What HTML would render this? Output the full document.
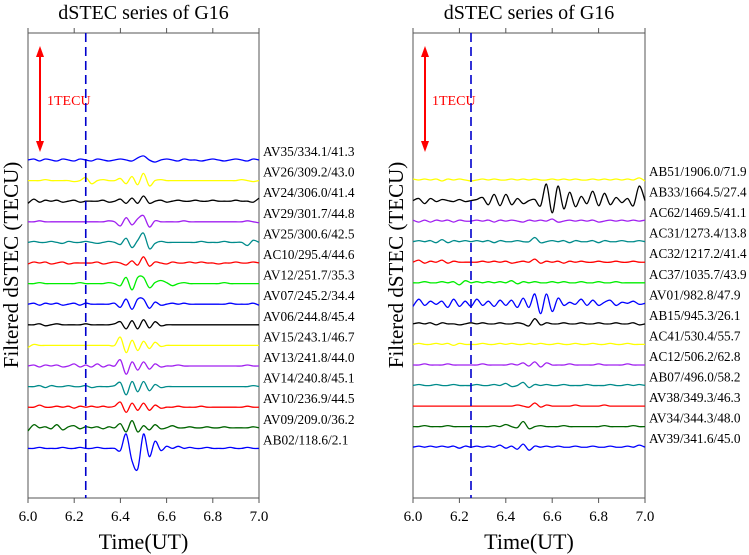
<!DOCTYPE html>
<html><head><meta charset="utf-8"><style>
html,body{margin:0;padding:0;background:#fff}
svg{display:block}
text{font-family:"Liberation Serif",serif}
</style></head><body>
<svg id="chart" width="749" height="555" viewBox="0 0 749 555"></svg>
<script>
const xTicks=[6.0,6.2,6.4,6.6,6.8,7.0];
const tStart=6.0, tStep=0.025;
const leftLabels=["AV35/334.1/41.3","AV26/309.2/43.0","AV24/306.0/41.4","AV29/301.7/44.8","AV25/300.6/42.5","AC10/295.4/44.6","AV12/251.7/35.3","AV07/245.2/34.4","AV06/244.8/45.4","AV15/243.1/46.7","AV13/241.8/44.0","AV14/240.8/45.1","AV10/236.9/44.5","AV09/209.0/36.2","AB02/118.6/2.1"];
const leftColors=["#0000ff","#ffff00","#000000","#a020f0","#008b8b","#ff0000","#00ee00","#0000ff","#000000","#ffff00","#a020f0","#008b8b","#ff0000","#006400","#0000ff"];
const leftSeries=[
[0,1,-1,1,0,-1,1,0,-1,1,0,-1,1,0,-1,0,1,0,-1,2,4,0,-2,0,1,0,-1,1,0,0,-1,0,1,0,-1,0,1,0,-1,1,0],
[0,0,0,1,0,0,0,0,-1,0,3,-3,0,1,0,0,2,-3,4,-4,7,-5,0,1,0,0,0,0,0,0,0,0,0,0,0,0,0,1,0,-1,0],
[-2,2,-1,1,0,1,-1,0,1,-1,0,0,0,1,-1,0,2,-2,3,-2,5,-2,0,1,-1,0,1,0,0,1,0,0,1,0,0,0,1,0,0,-1,3],
[0,0,1,0,0,0,0,0,0,0,0,0,0,0,1,0,-4,4,-3,3,6,-5,1,0,0,0,0,1,0,0,0,0,0,0,0,0,0,0,1,0,-1],
[0,1,0,0,1,0,-1,1,0,0,1,0,-1,0,1,0,-2,4,-5,2,9,-6,-1,1,0,0,0,0,0,0,1,0,0,0,1,0,0,0,-3,2,0],
[-1,1,0,1,-1,0,1,-1,0,0,0,0,1,-1,0,1,0,-2,2,-2,6,-3,1,0,-1,1,0,0,1,0,1,0,0,-1,0,0,1,0,0,1,0],
[0,0,1,0,0,0,0,0,0,1,0,0,0,0,1,0,-2,6,-6,6,6,-4,1,3,1,-2,0,1,0,0,0,0,0,0,1,0,0,0,0,0,0],
[0,1,-1,1,0,1,-1,0,1,-1,1,0,0,0,0,1,-3,5,-5,5,5,-4,2,-1,0,1,0,1,0,0,0,0,0,0,0,1,0,0,0,1,-1],
[0,0,1,-1,0,1,0,0,0,0,1,0,0,0,0,1,3,-4,4,-4,5,-3,3,-1,0,0,0,0,0,0,0,0,0,0,0,0,0,0,0,0,0],
[-2,1,0,0,0,0,0,0,0,0,0,0,0,0,0,0,8,-7,5,-5,4,-3,3,-1,0,0,0,0,0,0,0,0,0,0,0,0,0,0,0,0,0],
[0,1,-1,1,0,1,-1,0,2,-1,1,-1,2,-1,1,0,6,-8,4,-4,4,-3,2,-1,0,0,1,0,0,0,0,0,0,0,0,0,0,0,1,0,0],
[0,0,1,-1,1,0,0,1,0,0,1,-1,0,0,0,1,4,-8,5,-5,5,-4,2,-1,0,0,0,0,0,0,0,0,0,0,0,0,0,0,0,1,0],
[0,0,2,0,0,1,0,1,-1,1,0,1,0,1,0,1,5,-5,4,-3,4,-3,2,-1,0,0,1,0,0,0,1,0,0,0,0,0,0,0,1,0,0],
[-3,3,0,1,-1,3,-2,1,2,-1,1,0,1,-1,1,0,4,-4,7,-4,2,-2,3,-1,0,2,0,0,1,0,0,1,0,0,1,0,0,0,0,1,0],
[0,0,1,0,0,0,1,0,0,1,0,0,1,0,0,0,-2,14,-12,-20,14,-8,7,-2,2,0,2,0,1,0,0,1,0,0,0,1,0,0,1,0,0]];
const rightLabels=["AB51/1906.0/71.9","AB33/1664.5/27.4","AC62/1469.5/41.1","AC31/1273.4/13.8","AC32/1217.2/41.4","AC37/1035.7/43.9","AV01/982.8/47.9","AB15/945.3/26.1","AC41/530.4/55.7","AC12/506.2/62.8","AB07/496.0/58.2","AV38/349.3/46.3","AV34/344.3/48.0","AV39/341.6/45.0"];
const rightColors=["#ffff00","#000000","#a020f0","#008b8b","#ff0000","#00ee00","#0000ff","#000000","#ffff00","#a020f0","#008b8b","#ff0000","#006400","#0000ff"];
const rightSeries=[
[1,0,1,0,1,-1,1,0,1,0,-1,0,1,0,1,0,0,1,0,1,0,1,0,0,1,0,1,0,1,0,0,1,0,1,0,1,0,1,0,2,-1],
[0,2,-3,2,-1,1,0,-1,1,-1,0,1,3,-4,6,-5,6,-4,2,-3,0,1,-5,16,-12,14,-8,8,-6,4,-3,9,-5,7,-4,3,-2,2,-5,14,0],
[1,-1,1,-1,1,0,1,-1,1,0,0,1,0,1,-1,1,0,1,0,-1,1,0,1,0,2,-1,0,1,0,1,0,1,-1,0,1,0,1,0,1,0,1],
[0,1,0,1,-1,2,-1,1,0,1,0,1,0,1,-1,1,0,0,1,0,0,4,-1,0,1,0,1,-1,1,0,0,1,-1,1,0,0,1,0,0,1,0],
[0,2,-1,1,0,2,-1,1,0,0,0,0,1,0,1,0,1,-1,0,1,0,3,-1,1,0,1,-1,1,0,1,0,0,1,0,0,1,0,0,1,0,0],
[0,0,1,0,0,1,0,1,-2,2,0,1,0,1,0,1,0,2,-1,1,0,1,0,0,1,0,1,0,0,1,0,0,1,0,0,1,0,0,0,0,0],
[-3,4,-2,2,-1,2,-4,4,-3,2,-3,4,-2,2,-3,3,-2,3,-4,5,-4,9,-10,9,-8,5,-2,1,-1,4,-2,3,-2,1,3,-2,1,0,2,-1,0],
[0,1,0,1,-1,1,0,0,-1,0,1,0,1,0,0,1,0,0,1,0,-2,5,-1,1,0,0,1,0,0,1,0,0,1,0,0,1,0,0,1,-1,0],
[0,1,0,0,1,0,1,-1,1,0,0,0,1,0,0,1,0,1,0,0,1,0,1,0,0,1,0,0,1,0,0,1,0,0,1,0,0,1,0,0,0],
[0,0,1,0,0,0,1,0,0,0,0,0,1,0,0,0,0,1,0,2,-1,3,-2,2,0,0,0,1,0,0,0,0,1,0,0,0,0,1,0,0,0],
[0,1,0,0,1,0,0,1,0,0,0,1,0,0,1,0,2,-1,0,3,-2,1,0,1,0,0,1,0,0,0,1,0,0,0,1,0,0,1,0,1,0],
[0,0,0,0,0,0,0,0,0,0,0,0,0,0,0,0,0,0,1,0,-1,3,-1,1,0,0,0,0,1,0,0,0,0,1,0,0,0,0,0,0,0],
[0,0,1,0,0,0,1,0,0,0,0,0,0,0,1,0,2,0,-1,5,-2,0,1,0,0,0,1,0,0,0,0,0,0,1,0,0,0,0,1,0,0],
[0,1,0,1,0,1,0,1,-1,1,0,1,0,1,0,2,-1,1,-2,3,-3,1,0,1,0,1,0,0,1,0,0,1,0,0,1,0,0,1,0,2,0]];
const eventTime=6.25;

const NS="http://www.w3.org/2000/svg";
const svg=document.getElementById('chart');
function mk(tag,attrs,parent){const e=document.createElementNS(NS,tag);for(const k in attrs)e.setAttribute(k,attrs[k]);(parent||svg).appendChild(e);return e;}

function panel(p){
  const g=mk('g',{});
  
  
  const x=t=>p.x0+(t-6.0)/(7.0-6.0)*(p.x1-p.x0);
  const yv=(base,v)=>base-v*p.pxPerUnit;
  const ti=mk('text',{x:(p.x0+p.x1)/2,y:19,'text-anchor':'middle','font-size':20},g);ti.textContent="dSTEC series of G16";
  
  
  const fr=mk('rect',{x:p.x0,y:p.y0,width:p.x1-p.x0,height:p.y1-p.y0,fill:'none',stroke:'#555','stroke-width':1},g);
  
  
  xTicks.forEach(t=>{
    mk('line',{x1:x(t),x2:x(t),y1:p.y0,y2:p.y0-5,stroke:'#555'},g);
    mk('line',{x1:x(t),x2:x(t),y1:p.y1,y2:p.y1+5,stroke:'#555'},g);
    const tl=mk('text',{x:x(t),y:p.y1+23,'text-anchor':'middle','font-size':15},g);tl.textContent=t.toFixed(1);
    
    
  });
  const xl=mk('text',{x:(p.x0+p.x1)/2,y:549,'text-anchor':'middle','font-size':22},g);xl.textContent="Time(UT)";
  
  
  const yl=mk('text',{x:0,y:0,'text-anchor':'middle','font-size':21,transform:`translate(${p.x0-10},265) rotate(-90)`},g);yl.textContent="Filtered dSTEC (TECU)";
  
  
  const ax=p.x0+12;
  const ar=mk('g',{},g);
  
  
  mk('line',{x1:ax,x2:ax,y1:52,y2:146,stroke:'#ff0000','stroke-width':2},ar);
  mk('polygon',{points:`${ax-4},57 ${ax+4},57 ${ax},46`,fill:'#ff0000'},ar);
  mk('polygon',{points:`${ax-4},141 ${ax+4},141 ${ax},152`,fill:'#ff0000'},ar);
  const at=mk('text',{x:ax+7,y:105,'font-size':14,fill:'#ff0000'},ar);at.textContent="1TECU";
  p.series.forEach((s,i)=>{
    const base=p.base0+i*p.gap;
    const pts=s.map((v,j)=>[x(tStart+j*tStep),yv(base,v)]);
    let d=`M${pts[0][0].toFixed(1)},${pts[0][1].toFixed(1)}`;
    for(let k=0;k<pts.length-1;k++){
      const a=pts[Math.max(0,k-1)],b=pts[k],c=pts[k+1],e=pts[Math.min(pts.length-1,k+2)];
      const c1=[b[0]+(c[0]-a[0])/6,b[1]+(c[1]-a[1])/6],c2=[c[0]-(e[0]-b[0])/6,c[1]-(e[1]-b[1])/6];
      d+=`C${c1[0].toFixed(1)},${c1[1].toFixed(1)} ${c2[0].toFixed(1)},${c2[1].toFixed(1)} ${c[0].toFixed(1)},${c[1].toFixed(1)}`;
    }
    const path=mk('path',{d:d,fill:'none',stroke:p.colors[i],'stroke-width':1.3},g);
    
    
    const lb=mk('text',{x:p.x1+4,y:base-4,'font-size':14,textLength:p.labels[i].length*6.1,lengthAdjust:'spacingAndGlyphs'},g);lb.textContent=p.labels[i];
    
    
  });
  const dl=mk('line',{x1:x(eventTime),x2:x(eventTime),y1:p.y0,y2:p.y1,stroke:'#0000cc','stroke-width':1.6,'stroke-dasharray':'9,5'},g);
  
  
}
panel({name:'left-panel',x0:28,x1:259,y0:33,y1:498,base0:160,gap:20.6,pxPerUnit:1.03,series:leftSeries,labels:leftLabels,colors:leftColors});
panel({name:'right-panel',x0:413,x1:645,y0:33,y1:498,base0:180,gap:20.55,pxPerUnit:1.03,series:rightSeries,labels:rightLabels,colors:rightColors});
</script>
</body></html>
